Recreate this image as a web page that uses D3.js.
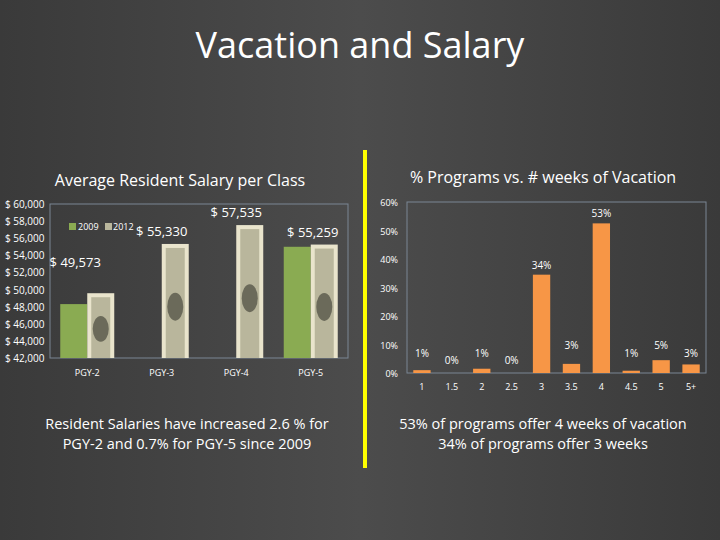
<!DOCTYPE html><html><head><meta charset="utf-8">
<script src="https://cdn.jsdelivr.net/npm/d3@7"></script>
<style>body{margin:0;background:#474747}svg{display:block}text{font-family:"Open Sans",sans-serif;fill:#fff}</style></head><body>
<svg id="c" width="720" height="540"></svg>
<script>
const classes=["PGY-2","PGY-3","PGY-4","PGY-5"];
const sal2009=[48300,null,null,55000];
const sal2012=[49573,55330,57535,55259];
const salLabels=["$ 49,573","$ 55,330","$ 57,535","$ 55,259"];
const salTicks=[42000,44000,46000,48000,50000,52000,54000,56000,58000,60000];
const weeks=["1","1.5","2","2.5","3","3.5","4","4.5","5","5+"];
const pct=[1,0,1.5,0,34.5,3.2,52.5,0.8,4.5,3];
const pctLabels=["1%","0%","1%","0%","34%","3%","53%","1%","5%","3%"];
const pctTicks=[0,10,20,30,40,50,60];

const svg=d3.select("#c");
const bg=svg.append("defs").append("linearGradient").attr("id","g").attr("x1",0).attr("x2",1);
bg.append("stop").attr("offset",0).attr("stop-color","#3a3a3a");
bg.append("stop").attr("offset",0.5).attr("stop-color","#4c4c4c");
bg.append("stop").attr("offset",1).attr("stop-color","#3a3a3a");
svg.append("rect").attr("width",720).attr("height",540).attr("fill","url(#g)");
svg.append("text").attr("x",360).attr("y",58).attr("text-anchor","middle").attr("font-size",36).text("Vacation and Salary");
svg.append("line").attr("x1",365).attr("x2",365).attr("y1",150).attr("y2",468).attr("stroke","#ffff00").attr("stroke-width",4);

// left chart
svg.append("text").attr("x",180).attr("y",186).attr("text-anchor","middle").attr("font-size",16).text("Average Resident Salary per Class");
const x=d3.scaleBand().domain(classes).range([50,348]);
const y=d3.scaleLinear().domain([42000,60000]).range([358,204]);
svg.append("rect").attr("x",50).attr("y",204).attr("width",298).attr("height",154).attr("fill","none").attr("stroke","#7a8694");
salTicks.forEach(t=>svg.append("text").attr("x",5).attr("y",y(t)+4).attr("font-size",10).text("$ "+d3.format(",")(t)));
classes.forEach((c,i)=>{
  const cx=x(c)+x.bandwidth()/2;
  if(sal2009[i]!=null) svg.append("rect").attr("x",cx-27).attr("width",27).attr("y",y(sal2009[i])).attr("height",358-y(sal2009[i])).attr("fill","#8aab52");
  const by=y(sal2012[i]),h=358-by;
  svg.append("rect").attr("x",cx).attr("width",27).attr("y",by).attr("height",h).attr("fill","#e9e4cc");
  svg.append("rect").attr("x",cx+4).attr("width",19).attr("y",by+4).attr("height",h-4).attr("fill","#b9b69c");
  svg.append("ellipse").attr("cx",cx+13.5).attr("cy",by+h*0.55).attr("rx",8).attr("ry",Math.min(14,h*0.2)).attr("fill","#6b6a5a");
  svg.append("text").attr("x",cx+(i==0?-12:i==3?2:0)).attr("y",by-(i==0?26:8)).attr("text-anchor","middle").attr("font-size",13).text(salLabels[i]);
  svg.append("text").attr("x",cx).attr("y",376).attr("text-anchor","middle").attr("font-size",9).text(c);
});
svg.append("rect").attr("x",69).attr("y",223).attr("width",7).attr("height",7).attr("fill","#8aab52");
svg.append("text").attr("x",78).attr("y",230).attr("font-size",9).text("2009");
svg.append("rect").attr("x",105).attr("y",223).attr("width",7).attr("height",7).attr("fill","#b9b69c");
svg.append("text").attr("x",113).attr("y",230).attr("font-size",9).text("2012");
svg.append("text").attr("x",187).attr("y",429).attr("text-anchor","middle").attr("font-size",14.5).text("Resident Salaries have increased 2.6 % for");
svg.append("text").attr("x",187).attr("y",449).attr("text-anchor","middle").attr("font-size",14.5).text("PGY-2 and 0.7% for PGY-5 since 2009");

// right chart
svg.append("text").attr("x",543).attr("y",183).attr("text-anchor","middle").attr("font-size",16).text("% Programs vs. # weeks of Vacation");
const x2=d3.scaleBand().domain(weeks).range([407,706]).paddingInner(0.42).paddingOuter(0.21);
const y2=d3.scaleLinear().domain([0,60]).range([373,202]);
svg.append("rect").attr("x",407).attr("y",202).attr("width",299).attr("height",171).attr("fill","none").attr("stroke","#7a8694");
pctTicks.forEach(t=>svg.append("text").attr("x",398).attr("y",y2(t)+4).attr("text-anchor","end").attr("font-size",9).text(t+"%"));
weeks.forEach((w,i)=>{
  svg.append("rect").attr("x",x2(w)).attr("width",x2.bandwidth()).attr("y",y2(pct[i])).attr("height",373-y2(pct[i])).attr("fill","#f79646");
  const ly=pct[i]<6?(i==1||i==3?364:i==8||i==5?349:357):y2(pct[i])-6;
  svg.append("text").attr("x",x2(w)+x2.bandwidth()/2).attr("y",ly).attr("text-anchor","middle").attr("font-size",10).text(pctLabels[i]);
  svg.append("text").attr("x",x2(w)+x2.bandwidth()/2).attr("y",390).attr("text-anchor","middle").attr("font-size",9).text(w);
});
svg.append("text").attr("x",543).attr("y",429).attr("text-anchor","middle").attr("font-size",14.5).text("53% of programs offer 4 weeks of vacation");
svg.append("text").attr("x",543).attr("y",449).attr("text-anchor","middle").attr("font-size",14.5).text("34% of programs offer 3 weeks");
</script></body></html>
